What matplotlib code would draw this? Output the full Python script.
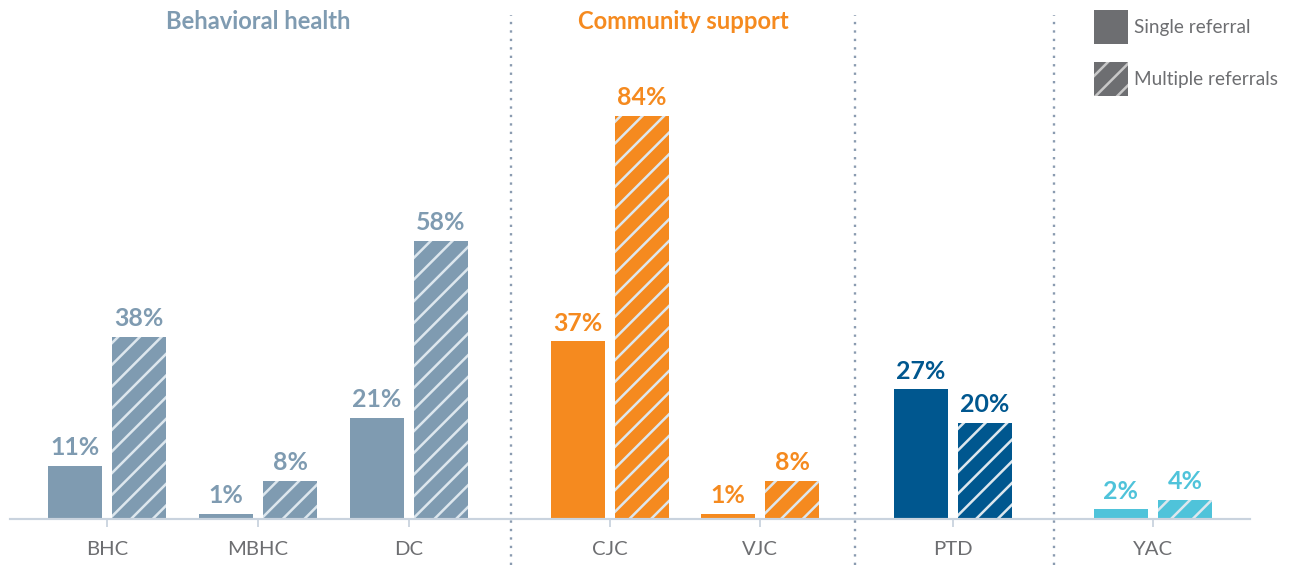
#!/usr/bin/env python3

import matplotlib
matplotlib.use('Agg')
import matplotlib.pyplot as plt
from matplotlib.patches import Patch

DPI = 130
W, H = 1289, 565

categories = ['BHC', 'MBHC', 'DC', 'CJC', 'VJC', 'PTD', 'YAC']
single = [11, 1, 21, 37, 1, 27, 2]
multiple = [38, 8, 58, 84, 8, 20, 4]
groups = ['Behavioral health', 'Behavioral health', 'Behavioral health',
          'Community support', 'Community support', 'PTD', 'YAC']
group_titles = ['Behavioral health', 'Community support']

colors = {
    'Behavioral health': '#7f9bb1',
    'Community support': '#f58a1f',
    'PTD': '#00578f',
    'YAC': '#4fc3da',
}

# layout, in pixel-like x units
xpos = [107, 258, 409, 610, 760, 953, 1153]
title_x = [258, 683]
separators = [511, 855, 1054]
width = 54
offset = 32
baseline = 519            # pixel row of the axis line
px_per_pct = 4.8

plt.rcParams['font.family'] = ['Lato', 'DejaVu Sans']
plt.rcParams['hatch.linewidth'] = 1.4

fig = plt.figure(figsize=(W / DPI, H / DPI), dpi=DPI)
ax = fig.add_axes([0, (H - baseline) / H, 1, baseline / H])
ax.set_xlim(0, W)
ax.set_ylim(0, baseline / px_per_pct)

for x, s, m, g in zip(xpos, single, multiple, groups):
    c = colors[g]
    ax.bar(x - offset, s, width, color=c, linewidth=0, zorder=2)
    ax.bar(x + offset, m, width, color=c, edgecolor='#dde7ee', linewidth=0,
           hatch='//', zorder=2)
    for xx, v in ((x - offset, s), (x + offset, m)):
        ax.annotate(f'{v}%', (xx, v), xytext=(0, 6), textcoords='offset points',
                    ha='center', va='baseline', fontsize=13.8, fontweight='bold',
                    color=c)

# dotted separators between groups
for sx in separators:
    ax.axvline(sx, ymin=-(H - baseline) / baseline, ymax=(baseline - 15) / baseline,
               color='#8a9bb0', linestyle=(0, (1, 2.6)), linewidth=1.3,
               clip_on=False, zorder=1)

# group titles
for t, tx in zip(group_titles, title_x):
    ax.text(tx, (baseline - 22) / px_per_pct, t, ha='center', va='center',
            fontsize=13.2, fontweight='bold', color=colors[t])

for side in ['top', 'right', 'left']:
    ax.spines[side].set_visible(False)
ax.spines['bottom'].set_color('#c9d3de')
ax.spines['bottom'].set_linewidth(1.2)
ax.spines['bottom'].set_bounds(10, 1250)
ax.set_yticks([])
ax.set_xticks(xpos)
ax.set_xticklabels(categories)
ax.tick_params(axis='x', direction='out', length=4.5, width=1.0, color='#c9d3de',
               pad=7.5, labelsize=11.2, labelcolor='#6d6e71')

handles = [
    Patch(facecolor='#6d6e71', linewidth=0, label='Single referral'),
    Patch(facecolor='#6d6e71', edgecolor='#c8c8c8', linewidth=0, hatch='//',
          label='Multiple referrals'),
]
ax.legend(handles=handles, loc='upper left',
          bbox_to_anchor=(1094 / W, 1 - 10 / H), bbox_transform=fig.transFigure,
          frameon=False, fontsize=10.5, handlelength=1.79, handleheight=2.38,
          handletextpad=0.3, labelspacing=0.95, borderpad=0, borderaxespad=0,
          labelcolor='#6d6e71')

plt.savefig('out.png', dpi=DPI)
